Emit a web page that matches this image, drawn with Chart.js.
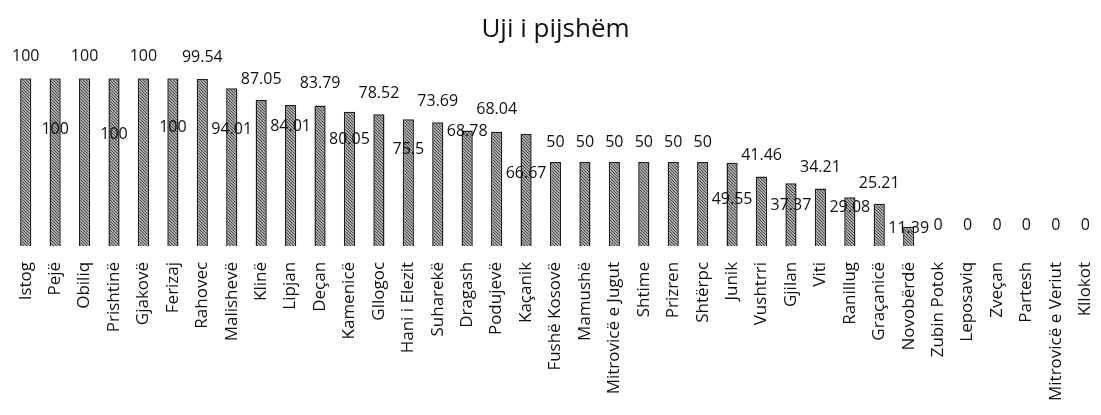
<!DOCTYPE html>
<html>
<head>
<meta charset="utf-8">
<script src="https://cdn.jsdelivr.net/npm/chart.js@4/dist/chart.umd.min.js"></script>
<style>
  body { margin: 0; background: #fff; }
  #wrap { width: 1101px; height: 415px; }
</style>
</head>
<body>
<div id="wrap"><canvas id="myChart" width="1101" height="415"></canvas></div>
<script>
// Data

var komunat = [
  "Istog", "Pejë", "Obiliq", "Prishtinë", "Gjakovë", "Ferizaj", "Rahovec",
  "Malishevë", "Klinë", "Lipjan", "Deçan", "Kamenicë", "Gllogoc",
  "Hani i Elezit", "Suharekë", "Dragash", "Podujevë", "Kaçanik",
  "Fushë Kosovë", "Mamushë", "Mitrovicë e Jugut", "Shtime", "Prizren",
  "Shtërpc", "Junik", "Vushtrri", "Gjilan", "Viti", "Ranillug", "Graçanicë",
  "Novobërdë", "Zubin Potok", "Leposaviq", "Zveçan", "Partesh",
  "Mitrovicë e Veriut", "Kllokot"
];

var ujiPijshem = [
  100, 100, 100, 100, 100, 100, 99.54,
  94.01, 87.05, 84.01, 83.79, 80.05, 78.52,
  75.5, 73.69, 68.78, 68.04, 66.67,
  50, 50, 50, 50, 50,
  50, 49.55, 41.46, 37.37, 34.21, 29.08, 25.21,
  11.39, 0, 0, 0, 0,
  0, 0
];

// where each value label sits, in px from the bar top (negative = above)
var labelShift = [
  -22, 51, -22, 56, -22, 49, -22,
  41, -20, 21, -22, 28, -21,
  30, -21, 1, -22, 39,
  -20, -20, -20, -20, -20,
  -20, 37, -21, 22, -21, 10, -20,
  2, -20, -20, -20, -20,
  -20, -20
];

// dense grey hatch like the printed bars
function makeHatch() {
  var c = document.createElement("canvas");
  c.width = 3;
  c.height = 3;
  var g = c.getContext("2d");
  g.fillStyle = "#a8a8a8";
  g.fillRect(0, 0, 3, 3);
  g.fillStyle = "#4a4a4a";
  g.fillRect(0, 0, 1, 1);
  g.fillRect(1, 1, 1, 1);
  g.fillRect(2, 2, 1, 1);
  return g.createPattern(c, "repeat");
}

var valueLabels = {
  id: "valueLabels",
  afterDatasetsDraw: function (chart) {
    var ctx = chart.ctx;
    var meta = chart.getDatasetMeta(0);
    ctx.save();
    ctx.font = "16px 'Open Sans'";
    ctx.fillStyle = "#111";
    ctx.textAlign = "center";
    ctx.textBaseline = "middle";
    meta.data.forEach(function (bar, i) {
      var v = chart.data.datasets[0].data[i];
      ctx.fillText(String(v), bar.x, bar.y + labelShift[i]);
    });
    ctx.restore();
  }
};

var ctx = document.getElementById("myChart");

var chart = new Chart(ctx, {
  type: "bar",
  data: {
    labels: komunat,
    datasets: [{
      data: ujiPijshem,
      backgroundColor: makeHatch(),
      borderColor: "#1e1e1e",
      borderWidth: 1.5,
      barPercentage: 0.38,
      categoryPercentage: 1
    }]
  },
  options: {
    responsive: false,
    animation: false,
    layout: {
      padding: { left: 11, right: 1, top: 0, bottom: 6 }
    },
    plugins: {
      legend: { display: false },
      tooltip: { enabled: false },
      title: {
        display: true,
        text: "Uji i pijshëm",
        color: "#111",
        font: { family: "'Open Sans'", size: 26, weight: "normal" },
        padding: { top: 14, bottom: 33 }
      }
    },
    scales: {
      x: {
        grid: { display: false },
        border: { display: false },
        afterFit: function (scale) {
          // let the bars run to the page edge like the original
          scale.paddingLeft = 0;
          scale.paddingRight = 0;
        },
        ticks: {
          color: "#111",
          font: { family: "'Open Sans'", size: 17 },
          minRotation: 90,
          maxRotation: 90,
          autoSkip: false,
          padding: 8
        }
      },
      y: {
        display: false,
        min: 0,
        max: 100
      }
    }
  },
  plugins: [valueLabels]
});
</script>
</body>
</html>
